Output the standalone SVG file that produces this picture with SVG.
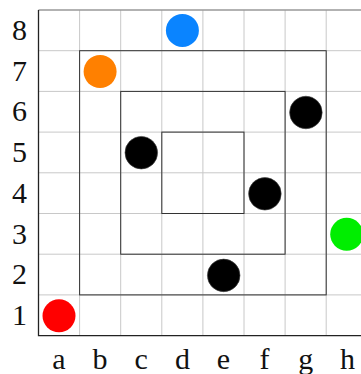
<svg xmlns="http://www.w3.org/2000/svg" width="361" height="374" viewBox="0 0 361 374">
<style>
.grid{stroke:#c8c8c8;stroke-width:1;fill:none}
.axis{stroke:#222;stroke-width:1.3;fill:none}
.sq{stroke:#333;stroke-width:1;fill:none}
.lbl{font-family:"Liberation Serif","Times New Roman",serif;font-size:30px;fill:#111;text-anchor:middle}
.blk{fill:#000;stroke:#444;stroke-width:0.6}
</style>
<rect width="361" height="374" fill="#fff"/>
<g id="grid">
<path class="grid" d="M79.6 10V335.7M120.7 10V335.7M161.8 10V335.7M202.9 10V335.7M244 10V335.7M285.1 10V335.7M326.2 10V335.7"/>
<path class="grid" d="M38.5 50.7H361M38.5 91.4H361M38.5 132.1H361M38.5 172.8H361M38.5 213.5H361M38.5 254.2H361M38.5 294.9H361"/>
<path d="M38.5 10H361" stroke="#999" stroke-width="1.5"/>
<path class="axis" d="M38.5 10V335.7H361"/>
</g>
<g id="squares">
<rect class="sq" x="79.6" y="50.7" width="246.6" height="244.2"/>
<rect class="sq" x="120.7" y="91.4" width="164.4" height="162.8"/>
<rect class="sq" x="161.8" y="132.1" width="82.2" height="81.4"/>
</g>
<g id="labels">
<text class="lbl" x="19.5" y="40">8</text>
<text class="lbl" x="19.5" y="80.7">7</text>
<text class="lbl" x="19.5" y="121.4">6</text>
<text class="lbl" x="19.5" y="162.1">5</text>
<text class="lbl" x="19.5" y="202.8">4</text>
<text class="lbl" x="19.5" y="243.5">3</text>
<text class="lbl" x="19.5" y="284.2">2</text>
<text class="lbl" x="19.5" y="325.4">1</text>
<text class="lbl" x="59" y="368.5">a</text>
<text class="lbl" x="100.1" y="368.5">b</text>
<text class="lbl" x="141.2" y="368.5">c</text>
<text class="lbl" x="182.4" y="368.5">d</text>
<text class="lbl" x="223.5" y="368.5">e</text>
<text class="lbl" x="264.6" y="368.5">f</text>
<text class="lbl" x="305.7" y="368.5">g</text>
<text class="lbl" x="347.5" y="368.5">h</text>
</g>
<g id="stones">
<circle id="blue-d8" cx="182.4" cy="30.4" r="16.5" fill="#0a84ff"/>
<circle id="orange-b7" cx="100.1" cy="71.5" r="16.5" fill="#ff8000"/>
<circle id="black-g6" class="blk" cx="305.9" cy="112.5" r="16.3"/>
<circle id="black-c5" class="blk" cx="141.3" cy="152.7" r="16.3"/>
<circle id="black-f4" class="blk" cx="264.9" cy="193.8" r="16.3"/>
<circle id="green-h3" cx="346.7" cy="234.3" r="16.5" fill="#00ee00"/>
<circle id="black-e2" class="blk" cx="223.7" cy="275.4" r="16.3"/>
<circle id="red-a1" cx="59" cy="315.8" r="16.5" fill="#ff0000"/>
</g>
</svg>
